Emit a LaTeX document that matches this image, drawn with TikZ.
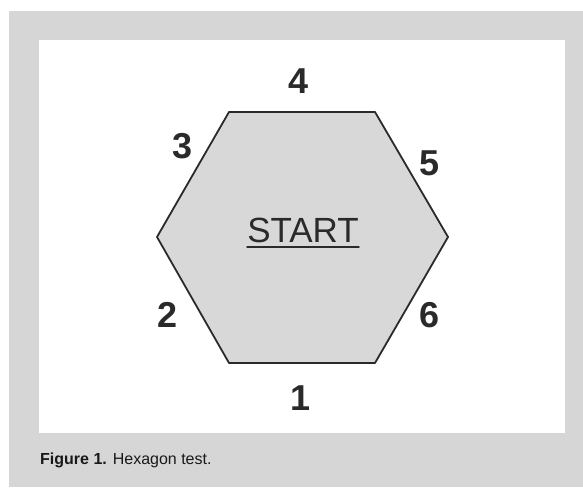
\documentclass[tikz,border=0pt]{standalone}
\usepackage{fontspec}
\setmainfont{Liberation Sans}
\definecolor{panelgray}{HTML}{D6D6D6}
\definecolor{hexfill}{HTML}{D8D8D8}
\definecolor{hexline}{HTML}{2A2A2A}
\tikzset{
  side/.style={inner sep=0pt,anchor=base,font=\fontsize{36}{40}\selectfont\bfseries,text=hexline},
  title/.style={inner sep=0pt,anchor=base,font=\fontsize{35}{40}\selectfont,text=hexline}
}
\begin{document}
\begin{tikzpicture}[x=1pt,y=-1pt,line cap=round,line join=round]
  \useasboundingbox (0,0) rectangle (583,487);
  \fill[panelgray] (9,11) rectangle (583,487);
  \fill[white] (39,40) rectangle (565,433);
  \draw[line width=1.8pt,draw=hexline,fill=hexfill]
    (229,112) -- (375,112) -- (448,237) -- (375,363) -- (229,363) -- (157,237) -- cycle;
  \node[title] (start) at (303,242) {START};
  \draw[line width=1.5pt,hexline] ([yshift=-5pt]start.base west) -- ([yshift=-5pt]start.base east);
  \node[side] (s1) at (301,410) {1};
  \node[side] (s2) at (168,327) {2};
  \node[side] (s3) at (183,158) {3};
  \node[side] (s4) at (299,93) {4};
  \node[side] (s5) at (430,175) {5};
  \node[side] (s6) at (430,327) {6};
  \node[inner sep=0pt,anchor=base west,font=\fontsize{16}{18}\selectfont,text=black!90] (cap) at (40,464)
    {\textbf{Figure 1.} Hexagon test.};
\end{tikzpicture}
\end{document}
